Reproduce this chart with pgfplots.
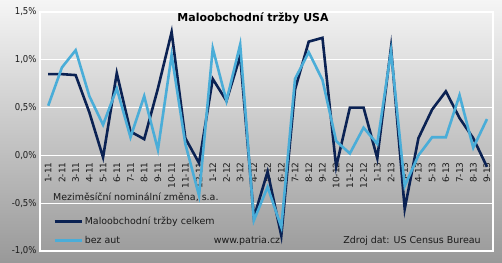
\documentclass[border=0pt]{standalone}
\usepackage{pgfplots}
\pgfplotsset{compat=1.18}
\usepackage{fontspec}
\setmainfont{DejaVu Sans}
\newfontfamily\condfont{DejaVu Sans Condensed}
\definecolor{darkser}{HTML}{0B2253}
\definecolor{lightser}{HTML}{4AADD8}
\definecolor{txt}{HTML}{1A1A1A}
\pgfplotstableread{
x total bezaut
0 0.85 0.52
1 0.85 0.92
2 0.84 1.10
3 0.45 0.62
4 -0.02 0.32
5 0.86 0.70
6 0.25 0.19
7 0.17 0.62
8 0.70 0.06
9 1.29 1.05
10 0.18 0.12
11 -0.08 -0.42
12 0.80 1.12
13 0.57 0.57
14 1.04 1.16
15 -0.65 -0.68
16 -0.17 -0.33
17 -0.84 -0.75
18 0.69 0.80
19 1.19 1.08
20 1.23 0.79
21 -0.12 0.15
22 0.50 0.02
23 0.50 0.29
24 -0.03 0.12
25 1.13 1.09
26 -0.56 -0.32
27 0.18 0.00
28 0.48 0.19
29 0.67 0.19
30 0.39 0.63
31 0.18 0.08
32 -0.12 0.38
}\datatable
\begin{document}
\begin{tikzpicture}[x=1bp,y=1bp]
\shade[top color=black!4, bottom color=black!40] (-40,-11) rectangle (462,251);
\begin{axis}[at={(0,0)}, anchor=south west, scale only axis,
  width=453bp, height=239bp,
  xmin=-0.6, xmax=32.44, ymin=-1, ymax=1.5,
  ytick={-1,-0.5,0,0.5,1,1.5},
  yticklabels={{-1,0\%},{-0,5\%},{0,0\%},{0,5\%},{1,0\%},{1,5\%}},
  xtick={0,...,32},
  xticklabels={1-11,2-11,3-11,4-11,5-11,6-11,7-11,8-11,9-11,10-11,11-11,12-11,1-12,2-12,3-12,4-12,5-12,6-12,7-12,8-12,9-12,10-12,11-12,12-12,1-13,2-13,3-13,4-13,5-13,6-13,7-13,8-13,9-13},
  ymajorgrids, grid style={white, line width=1.3bp},
  axis line style={white, line width=1.3bp},
  tick style={draw=none},
  xticklabel style={rotate=90, anchor=east, font=\fontsize{9}{10}\selectfont, text=txt},
  xticklabel shift=-92bp,
  yticklabel style={font=\condfont\fontsize{9.5}{10}\selectfont, text=txt},
  legend style={at={(0.0287,0.152)}, anchor=north west, draw=none, fill=none,
    font=\fontsize{9.5}{10}\selectfont, text=txt, row sep=6bp, inner sep=0pt},
  legend cell align=left,
  legend image code/.code={\draw[#1] (0bp,0bp) -- (27bp,0bp);},
]
\addplot[darkser, line width=2.6bp] table[x=x, y=total] {\datatable};
\addlegendentry{Maloobchodní tržby celkem}
\addplot[lightser, line width=2.6bp] table[x=x, y=bezaut] {\datatable};
\addlegendentry{bez aut}
\end{axis}
\node[font=\bfseries\fontsize{11}{12}\selectfont, text=black] at (213,233) {Maloobchodní tržby USA};
\node[anchor=west, font=\fontsize{9.5}{10}\selectfont, text=txt, inner sep=0pt] at (13,54) {Meziměsíční nominální změna, s.a.};
\node[font=\fontsize{9.5}{10}\selectfont, text=txt] at (207,10) {www.patria.cz};
\node[font=\fontsize{9.5}{10}\selectfont, text=txt] at (372,10) {Zdroj dat: US Census Bureau};
\pgfresetboundingbox
\path (-40,-11) rectangle (462,251);
\end{tikzpicture}
\end{document}
